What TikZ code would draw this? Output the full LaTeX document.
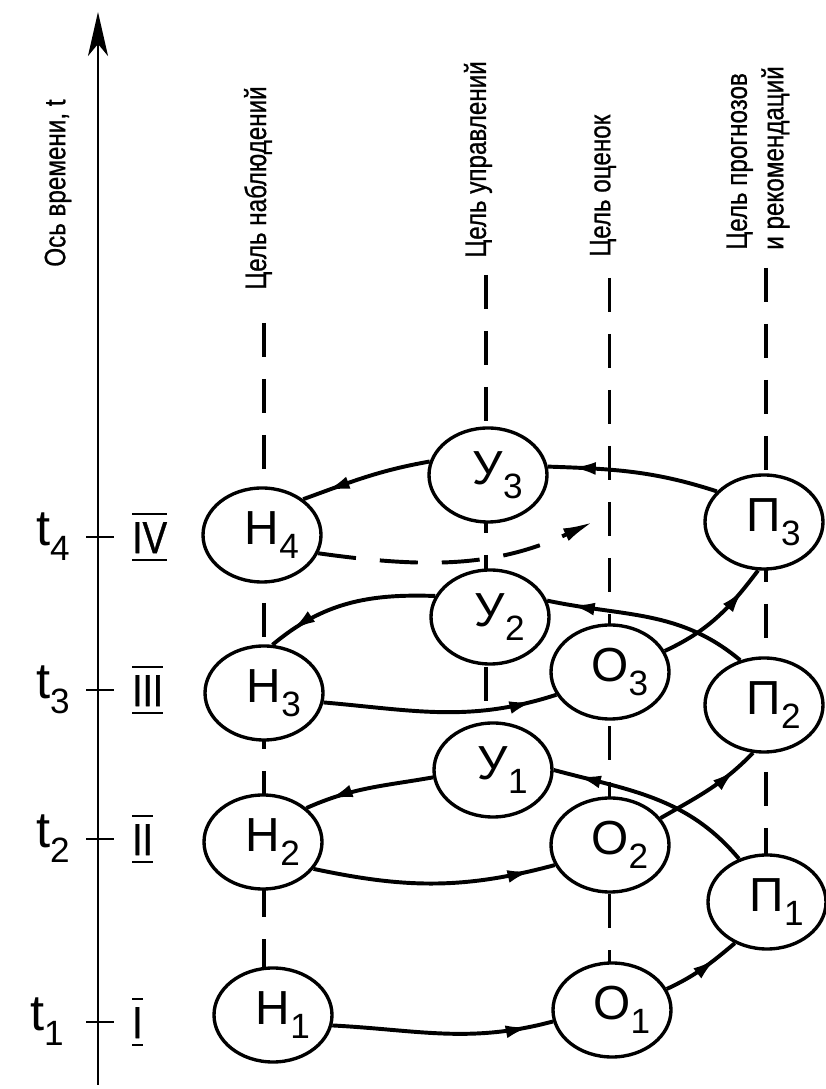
\documentclass[tikz,border=0pt]{standalone}
\usepackage{fontspec}
\usepackage{tikz}
\usetikzlibrary{arrows.meta,shapes.geometric,decorations.markings,backgrounds}
\newfontfamily\labfont{Liberation Sans}
\newfontfamily\narrowfont[FakeStretch=0.82, FakeBold=0.8]{Liberation Sans}
\newcommand\subix[1]{\raisebox{-0.3em}{\fontsize{25}{25}\selectfont #1}}
\newcommand\barred[1]{\vbox{\hrule height 1.8pt\kern 5pt\hbox{#1}\kern 4pt\hrule height 1.8pt}}

\begin{document}
\begin{tikzpicture}[
  vertex/.style={ellipse, draw, line width=2.4pt, fill=white, minimum width=2.95cm, minimum height=2.35cm, inner sep=0pt, font=\labfont\fontsize{34}{40}\selectfont},
  lab/.style={inner sep=0pt, font=\narrowfont\fontsize{21}{26}\selectfont},
  tlab/.style={anchor=east, inner sep=0pt, font=\labfont\fontsize{36}{44}\selectfont},
  num/.style={anchor=west, inner sep=0pt, font=\narrowfont\fontsize{32}{36}\selectfont},
  guide/.style={line width=2.2pt, dash pattern=on 0.85cm off 0.55cm},
  tick/.style={line width=2pt},
  link/.style={line width=2.8pt, decoration={markings, mark=at position -0.6cm with {\arrow{Latex[length=0.6cm, width=0.32cm]}}}, postaction={decorate}},
  future/.style={line width=2.8pt, dash pattern=on 0.95cm off 0.6cm, -{Latex[length=0.75cm, width=0.34cm]}}
]
\useasboundingbox (0,0) rectangle (20.625,27.225);

% time axis
\coordinate (ax0) at (2.45, 0.1);
\coordinate (ax1) at (2.45, 26.925);
\draw[line width=2pt, -{Stealth[length=1.1cm, width=0.5cm, inset=0.3cm]}] (ax0) -- (ax1);
\node[lab, rotate=90, anchor=west] (axl) at (1.45, 20.55) {Ось времени, t};

\draw[tick] (2.15, 13.8)  -- (2.85, 13.8);
\draw[tick] (2.15, 9.975) -- (2.85, 9.975);
\draw[tick] (2.15, 6.25)  -- (2.85, 6.25);
\draw[tick] (2.15, 1.675) -- (2.85, 1.675);

\node[tlab] (t4) at (1.75, 13.8)  {t\subix{4}};
\node[tlab] (t3) at (1.75, 9.975) {t\subix{3}};
\node[tlab] (t2) at (1.75, 6.25)  {t\subix{2}};
\node[tlab] (t1) at (1.6, 1.675)  {t\subix{1}};

\node[num] (r4) at (3.3, 13.8)  {\barred{IV}};
\node[num] (r3) at (3.3, 9.975) {\barred{III}};
\node[num] (r2) at (3.3, 6.25)  {\barred{II}};
\node[num] (r1) at (3.3, 1.675) {\barred{I}};

% column titles
\node[lab, rotate=90, anchor=west] (lh) at (6.45, 19.975) {Цель наблюдений};
\node[lab, rotate=90, anchor=west] (lu) at (11.95, 20.775) {Цель управлений};
\node[lab, rotate=90, anchor=west] (lo) at (15.075, 20.8) {Цель оценок};
\node[lab, rotate=90, anchor=west, align=left] (lp) at (18.95, 20.975) {Цель прогнозов\\и рекомендаций};

% states
\node[vertex] (h4) at (6.55, 13.85)  {Н\rlap{\subix{4}}};
\node[vertex] (h3) at (6.6, 9.9)     {Н\rlap{\subix{3}}};
\node[vertex] (h2) at (6.575, 6.175) {Н\rlap{\subix{2}}};
\node[vertex] (h1) at (6.825, 1.85)  {Н\rlap{\subix{1}}};

\node[vertex] (u3) at (12.2, 15.35)  {У\rlap{\subix{3}}};
\node[vertex] (u2) at (12.25, 11.8)  {У\rlap{\subix{2}}};
\node[vertex] (u1) at (12.325, 7.975) {У\rlap{\subix{1}}};

\node[vertex] (o3) at (15.25, 10.425) {О\rlap{\subix{3}}};
\node[vertex] (o2) at (15.25, 6.1)    {О\rlap{\subix{2}}};
\node[vertex] (o1) at (15.3, 1.975)   {О\rlap{\subix{1}}};

\node[vertex] (p3) at (19.1, 14.175)  {П\rlap{\subix{3}}};
\node[vertex] (p2) at (19.1, 9.6)     {П\rlap{\subix{2}}};
\node[vertex] (p1) at (19.175, 4.675) {П\rlap{\subix{1}}};

\coordinate (o4) at (14.825, 14.175);

% dashed column lines
\coordinate (gh) at (6.6, 19.15);
\coordinate (gu) at (12.15, 20.35);
\coordinate (go) at (15.23, 20.275);
\coordinate (gp) at (19.15, 20.525);
\begin{scope}[on background layer]
\draw[guide] (gh) -- (gh |- h1.center);
\draw[guide] (gu) -- (gu |- u1.center);
\draw[guide] (go) -- (go |- o1.center);
\draw[guide] (gp) -- (gp |- p1.center);
\end{scope}

% cycle
\draw[link] (h1.-10)  to[out=-3, in=195]   (o1.191);
\draw[link] (o1.21)   to[out=25, in=-140]  (p1.232);
\draw[link] (p1.123)  to[out=130, in=-15]  (u1.0);
\draw[link] (u1.187)  to[out=190, in=24]   (h2.38);
\draw[link] (h2.-28)  to[out=-12, in=195]  (o2.200);
\draw[link] (o2.28)   to[out=30, in=-134]  (p2.-103);
\draw[link] (p2.118)  to[out=140, in=-12]  (u2.16);
\draw[link] (u2.159)  to[out=178, in=40]   (h3.80);
\draw[link] (h3.-9)   to[out=-5, in=198]   (o3.203);
\draw[link] (o3.21)   to[out=25, in=-127]  (p3.-97);
\draw[link] (p3.147)  to[out=162, in=-2]   (u3.8);
\draw[link] (u3.167)  to[out=190, in=20]   (h4.41);
\draw[future] (h4.-18) to[out=-8, in=205]  (o4);

\end{tikzpicture}
\end{document}
